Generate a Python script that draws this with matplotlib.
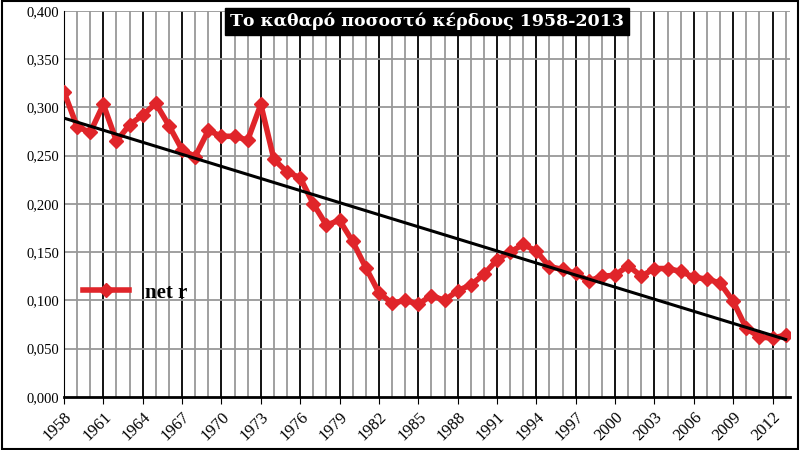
import matplotlib
matplotlib.use("Agg")
import matplotlib.pyplot as plt
import numpy as np
from matplotlib.ticker import FuncFormatter, MultipleLocator

years = list(range(1958, 2014))
net_r = [0.316, 0.280, 0.274, 0.303, 0.265, 0.282, 0.292, 0.304, 0.281, 0.256,
         0.249, 0.276, 0.270, 0.270, 0.266, 0.303, 0.246, 0.233, 0.227, 0.200,
         0.178, 0.183, 0.161, 0.134, 0.108, 0.097, 0.100, 0.096, 0.105, 0.100,
         0.110, 0.116, 0.127, 0.142, 0.150, 0.158, 0.151, 0.135, 0.132, 0.128,
         0.120, 0.125, 0.126, 0.136, 0.125, 0.133, 0.133, 0.130, 0.124, 0.122,
         0.118, 0.099, 0.071, 0.062, 0.061, 0.064]
title = "Το καθαρό ποσοστό κέρδους 1958-2013"

fig = plt.figure(figsize=(8, 4.5), dpi=100)
ax = fig.add_axes([0.08, 0.118, 0.907, 0.858])
x = np.array(years)
y = np.array(net_r)
coef = np.polyfit(x, y, 1)

for yr in years:
    lab = (yr - 1958) % 3 == 0
    ax.axvline(yr, color="black" if lab else "#999999", lw=1.3, zorder=0)
for v in np.arange(0.05, 0.401, 0.05):
    ax.axhline(v, color="#999999", lw=1.3, zorder=0)

ax.plot(x, y, color="#e0252a", lw=4, marker="D", ms=7, label="net r", zorder=3)
ax.plot(x, np.polyval(coef, x), color="black", lw=2.2, zorder=4)

ax.set_xlim(1958, 2013.3)
ax.set_ylim(0, 0.4)
ax.yaxis.set_major_locator(MultipleLocator(0.05))
ax.yaxis.set_major_formatter(FuncFormatter(lambda v, p: f"{v:.3f}".replace(".", ",")))
ax.set_xticks(years[::3])
ax.set_xticklabels([str(t) for t in years[::3]], rotation=45, ha="right", rotation_mode="anchor",
                   family="Liberation Serif", fontsize=12)
for t in ax.get_yticklabels():
    t.set_family("Liberation Serif"); t.set_fontsize(10.5)
for s in ["top", "right"]:
    ax.spines[s].set_visible(False)
ax.spines["bottom"].set_linewidth(2)
ax.tick_params(axis="x", length=5)
ax.tick_params(axis="y", length=0)

ax.text(0.5, 0.972, title, transform=ax.transAxes, ha="center", va="center",
        color="white", fontsize=12.5, fontweight="bold", family="DejaVu Serif",
        bbox=dict(facecolor="black", edgecolor="black", pad=3.5), zorder=6)
leg = ax.legend(loc="center left", bbox_to_anchor=(0.0, 0.27), frameon=False,
                prop=dict(family="Liberation Serif", weight="bold", size=15),
                handlelength=2.2)
fig.patches.append(plt.Rectangle((0.002, 0.003), 0.996, 0.994, transform=fig.transFigure,
                                 fill=False, edgecolor="black", lw=1.5))
fig.savefig("out.png", dpi=100)
